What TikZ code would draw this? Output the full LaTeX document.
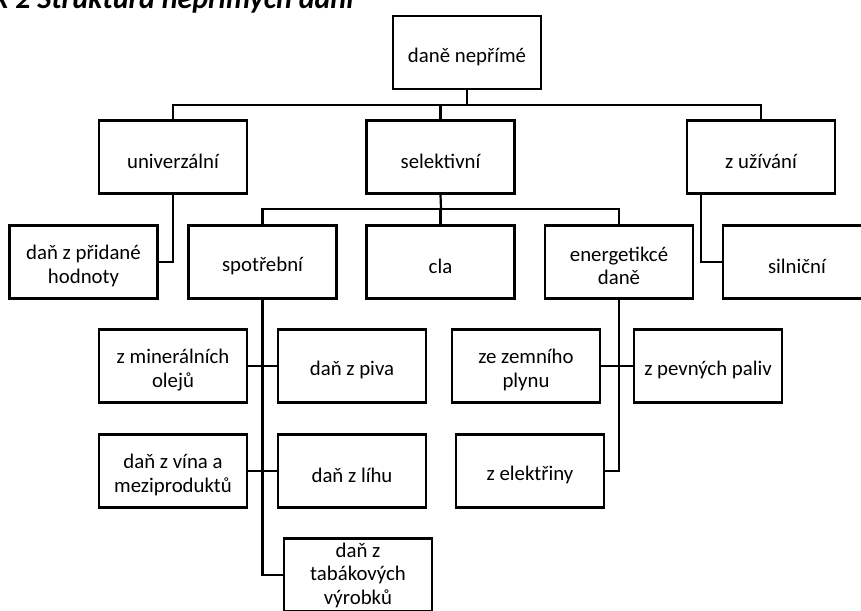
\documentclass[tikz,border=0pt]{standalone}
\usepackage{fontspec}
\setmainfont{Carlito}
\begin{document}
\begin{tikzpicture}[x=1pt,y=-1pt,
  box/.style={draw=black,line width=2.2pt,rectangle,minimum width=148pt,minimum height=73pt,inner sep=0pt},
  txt/.style={inner sep=0pt,align=center,font=\fontsize{20.8}{23.5}\selectfont,text=black},
  conn/.style={draw=black,line width=2.2pt,line cap=rect}]
\newcommand\myboxs[5]{\node[box] (#1) at (#2,#3) {}; \node[txt] (#1-t) at ([yshift=#5]#1.center) {#4};}
\newcommand\mybox[4]{\myboxs{#1}{#2}{#3}{#4}{-4pt}}
\useasboundingbox (0,0) rectangle (861,610);
\clip (0,0) rectangle (861,610);
\node[anchor=base west,inner sep=0pt,font=\fontsize{30}{32}\selectfont\bfseries\itshape] (title) at (-6,8.5) {k 2 Struktura nepřímých daní};
% level 0
\mybox{root}{467}{52.5}{daně nepřímé}
% level 1
\mybox{univ}{173}{157}{univerzální}
\mybox{sel}{440.5}{157}{selektivní}
\mybox{zuz}{761}{157}{z užívání}
% level 2
\mybox{dph}{83.5}{262}{daň z přidané\\hodnoty}
\mybox{spot}{262.5}{262}{spotřební}
\mybox{cla}{440.5}{262}{cla}
\mybox{ener}{619}{262}{energetikcé\\daně}
\mybox{siln}{797}{262}{silniční}
% level 3
\mybox{mine}{173}{366}{z minerálních\\olejů}
\mybox{piva}{352}{366}{daň z piva}
\mybox{vina}{173}{471}{daň z vína a\\meziproduktů}
\mybox{lihu}{352}{471}{daň z líhu}
\myboxs{taba}{358}{575}{daň z\\tabákových\\výrobků}{0pt}
\mybox{zzp}{526}{366}{ze zemního\\plynu}
\mybox{pev}{708}{366}{z pevných paliv}
\mybox{elek}{530}{471}{z elektřiny}
% connectors
\coordinate (bus1) at (467,105);
\coordinate (bus2) at (441,209);
\draw[conn] (root.south) -- (bus1);
\draw[conn] (univ.north) |- (bus1 -| zuz.north) -- (zuz.north);
\draw[conn] (sel.north) -- (sel.north |- bus1);
\draw[conn] (univ.south) |- (dph.east);
\draw[conn] ([xshift=15pt]zuz.south west) |- (siln.west);
\draw[conn] (sel.south) -- (bus2);
\draw[conn] (spot.north) |- (bus2 -| ener.north) -- (ener.north);
\draw[conn] (cla.north) -- (cla.north |- bus2);
\draw[conn] (spot.south) |- (taba.west);
\draw[conn] (mine.east) -- (piva.west);
\draw[conn] (vina.east) -- (lihu.west);
\draw[conn] (ener.south) |- (elek.east);
\draw[conn] (zzp.east) -- (pev.west);
\end{tikzpicture}
\end{document}
